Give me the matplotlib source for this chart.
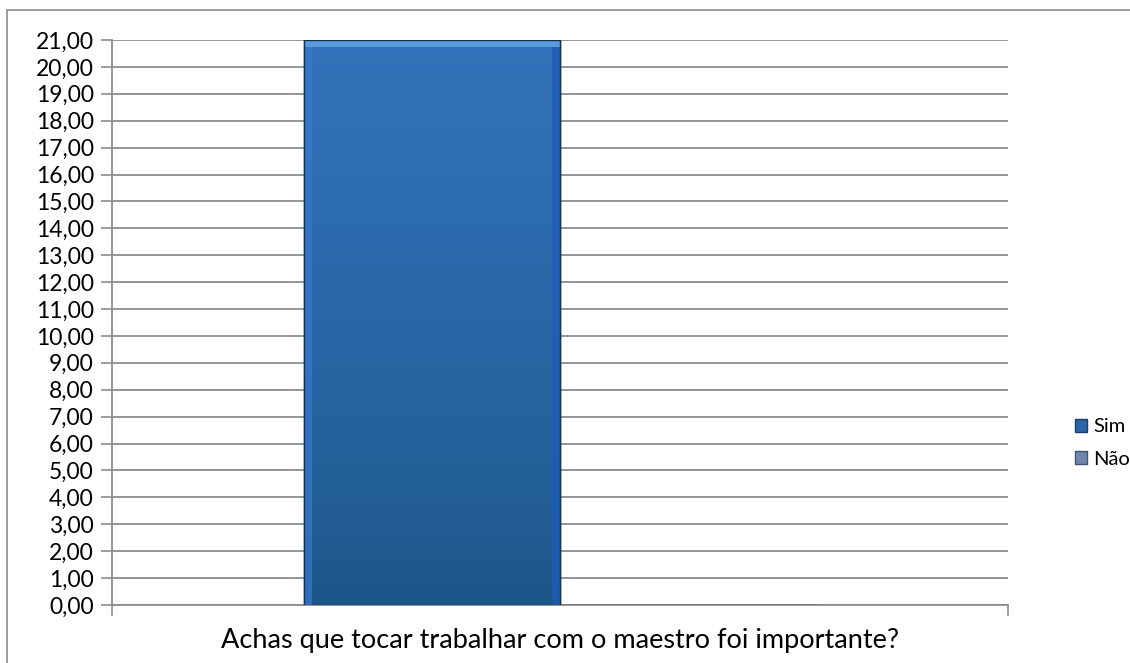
import numpy as np
import matplotlib
matplotlib.use("Agg")
import matplotlib.pyplot as plt
from matplotlib.patches import Rectangle, Patch
from matplotlib.colors import LinearSegmentedColormap

plt.rcParams["font.family"] = ["Lato", "DejaVu Sans"]

category = "Achas que tocar trabalhar com o maestro foi importante?"
series = ["Sim", "Não"]
values = [21.0, 0.0]
yticks = list(range(0, 22))

fig = plt.figure(figsize=(11.3, 6.63), dpi=100)
ax = fig.add_axes([0.0991, 0.0875, 0.7929, 0.8522])

# outer chart frame (cropped at right/bottom like the reference)
fig.patches.append(Rectangle((7 / 1130, -0.1), 1.2, 1.1 - 10 / 663,
                             transform=fig.transFigure, fill=False,
                             edgecolor="#8c8c8c", linewidth=1.2))

width = 256 / 896
xpos = [-width / 2, width / 2]
bar_colors = ["#2c65a8", "#6f86ad"]

bars = ax.bar(xpos, values, width=width, color=bar_colors,
              edgecolor="#16324f", linewidth=1.0, zorder=3)

# vertical shading inside the Sim bar
cmap = LinearSegmentedColormap.from_list(
    "bar", ["#1d5688", "#24609a", "#2a66a6", "#2e6db2", "#3473bb"])
b = bars[0]
grad = np.linspace(0, 1, 256).reshape(-1, 1)
im = ax.imshow(grad, cmap=cmap, origin="lower", aspect="auto",
               extent=[b.get_x(), b.get_x() + b.get_width(), 0, b.get_height()],
               zorder=3.5)
im.set_clip_path(b)
# bevel highlights
ax.add_patch(Rectangle((b.get_x(), 0), b.get_width() * 0.03, b.get_height(),
                       color="#3a78d0", alpha=0.7, zorder=4, linewidth=0))
ax.add_patch(Rectangle((b.get_x() + b.get_width() * 0.97, 0), b.get_width() * 0.03,
                       b.get_height(), color="#1e5cb8", alpha=0.8, zorder=4, linewidth=0))
ax.add_patch(Rectangle((b.get_x(), b.get_height() * 0.988), b.get_width(),
                       b.get_height() * 0.012, color="#5a9be0", zorder=4, linewidth=0))
ax.add_patch(Rectangle((b.get_x(), 0), b.get_width(), b.get_height(), fill=False,
                       edgecolor="#16324f", linewidth=1.0, zorder=5))

ax.set_xlim(-0.5, 0.5)
ax.set_ylim(0, 21)
ax.set_yticks(yticks)
ax.set_yticklabels([f"{v:.2f}".replace(".", ",") for v in yticks], fontsize=16.5)
ax.set_xticks([-0.5, 0.5])
ax.set_xticklabels(["", ""])
ax.tick_params(axis="y", length=8, width=1.2, color="#8c8c8c", pad=5)
ax.tick_params(axis="x", length=8, width=1.2, color="#8c8c8c", direction="out")
ax.grid(axis="y", color="#8c8c8c", linewidth=1.3, zorder=0)
ax.set_axisbelow(True)
for side in ["top", "right"]:
    ax.spines[side].set_visible(False)
for side in ["left", "bottom"]:
    ax.spines[side].set_color("#8c8c8c")
    ax.spines[side].set_linewidth(1.3)
ax.set_xlabel(category, fontsize=19.5, labelpad=5)

handles = [Patch(facecolor=bar_colors[0], edgecolor="#1b3f6b"),
           Patch(facecolor=bar_colors[1], edgecolor="#3f557a")]
fig.legend(handles, series, loc="center left", bbox_to_anchor=(1075 / 1130, 1 - 443 / 663),
           frameon=False, fontsize=14.5, handlelength=0.6, handleheight=0.6,
           handletextpad=0.3, labelspacing=0.75, borderpad=0, borderaxespad=0)

fig.savefig("out.png", dpi=100)
